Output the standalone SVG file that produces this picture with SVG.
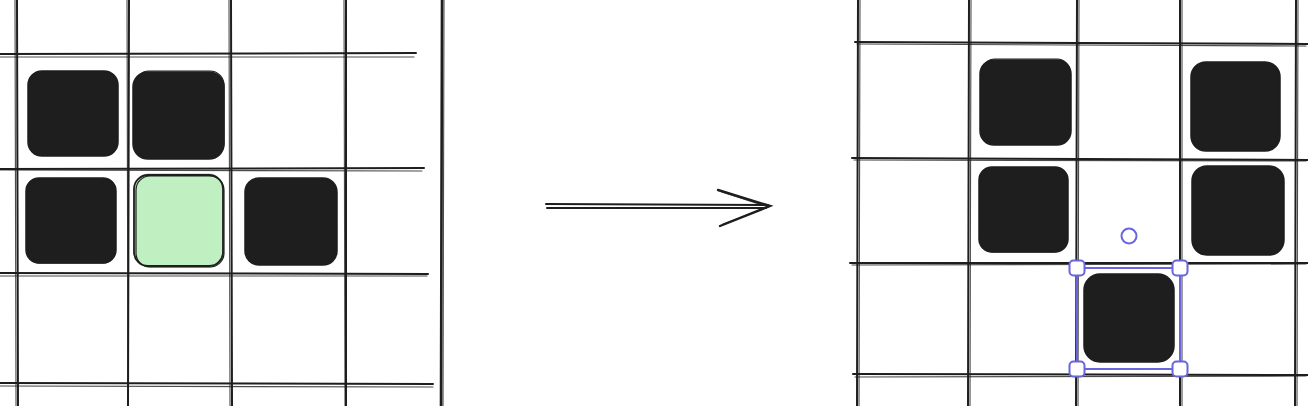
<svg xmlns="http://www.w3.org/2000/svg" width="1308" height="406" viewBox="0 0 1308 406">
<style>
.g{stroke:#1e1e1e;stroke-width:2;fill:none;stroke-linecap:round}
.g2{stroke:#1e1e1e;stroke-width:1.1;fill:none;stroke-linecap:round;opacity:.8}
.blk{fill:#1e1e1e;stroke:#1e1e1e;stroke-width:1.5}
.ol{fill:none;stroke:#1e1e1e;stroke-width:1.2}
.sel{fill:none;stroke:#6965db;stroke-width:2}
.hdl{fill:#fff;stroke:#6965db;stroke-width:2}
</style>
<rect width="1308" height="406" fill="#fff"/>
<g id="grid-left">
<path class="g" d="M17 0 L18 406 M129 0 L128 406 M231 0 L232 406 M346 0 L346 406"/>
<path class="g2" d="M15 0 L16 406 M127 0 L128 406 M229 0 L230 406 M344 0 L345 406"/>
<path class="g" d="M442 0 L441 406" style="stroke-width:2.6"/>
<path class="g2" d="M444 0 L443 406"/>
<path class="g" d="M0 54 L416 53 M0 169 L424 168 M0 273 L428 274 M0 383 L433 384"/>
<path class="g2" d="M0 57 L414 57 M0 170 L422 171 M0 276 L427 276 M0 386 L433 387"/>
</g>
<g id="grid-right">
<path class="g" d="M858 0 L857 406 M969 0 L968 406 M1077 0 L1076 406 M1180 0 L1180 406 M1296 0 L1295 406"/>
<path class="g2" d="M860 0 L859 406 M971 0 L970 406 M1079 0 L1078 406 M1182 0 L1182 406 M1298 0 L1297 406"/>
<path class="g" d="M855 42 L1308 44 M852 158 L1308 160 M850 263 L1308 263 M853 374 L1308 375"/>
<path class="g2" d="M857 44 L1306 46 M854 160 L1306 161 M852 265 L1306 264 M855 377 L1306 376"/>
</g>
<g id="node-l1"><rect class="blk" x="28" y="71" width="90" height="85" rx="14"/><rect class="ol" x="30" y="72" width="87" height="83" rx="13"/></g>
<g id="node-l2"><rect class="blk" x="133" y="72" width="91" height="87" rx="15"/><rect class="ol" x="135" y="71" width="89" height="86" rx="14"/></g>
<g id="node-l3"><rect class="blk" x="26" y="178" width="90" height="85" rx="13"/><rect class="ol" x="28" y="180" width="87" height="83" rx="12"/></g>
<g id="node-l4"><rect x="134" y="173" width="90" height="95" rx="16" fill="#c0f0c2"/><rect class="ol" x="134" y="175" width="89" height="91" rx="14" style="stroke-width:1.8"/><rect class="ol" x="136" y="176" width="88" height="91" rx="14"/></g>
<g id="node-l5"><rect class="blk" x="245" y="178" width="92" height="87" rx="14"/><rect class="ol" x="247" y="180" width="88" height="84" rx="13"/></g>
<g id="connectors">
<path class="g" d="M546 204 L768 205 M547 208 L766 208"/>
<path class="g" d="M718 190 L770 206 L720 226" style="stroke-width:2.4"/>
<path class="g2" d="M722 192 L768 207 L723 224"/>
</g>
<g id="node-r1"><rect class="blk" x="980" y="60" width="91" height="85" rx="14"/><rect class="ol" x="982" y="59" width="88" height="84" rx="13"/></g>
<g id="node-r2"><rect class="blk" x="1191" y="62" width="89" height="89" rx="15"/><rect class="ol" x="1192" y="64" width="87" height="85" rx="14"/></g>
<g id="node-r3"><rect class="blk" x="979" y="167" width="89" height="85" rx="13"/><rect class="ol" x="980" y="168" width="87" height="84" rx="13"/></g>
<g id="node-r4"><rect class="blk" x="1192" y="166" width="92" height="89" rx="15"/><rect class="ol" x="1193" y="168" width="90" height="86" rx="14"/></g>
<g id="node-r5"><rect class="blk" x="1084" y="274" width="90" height="88" rx="16"/><rect class="ol" x="1085" y="275" width="88" height="86" rx="15"/></g>
<g id="selection">
<rect class="sel" x="1077" y="268" width="103" height="101"/>
<rect class="hdl" x="1069.5" y="260.5" width="15" height="15" rx="4"/>
<rect class="hdl" x="1172.5" y="260.5" width="15" height="15" rx="4"/>
<rect class="hdl" x="1069.5" y="361.5" width="15" height="15" rx="4"/>
<rect class="hdl" x="1172.5" y="361.5" width="15" height="15" rx="4"/>
<circle class="hdl" cx="1129" cy="236" r="7.5"/>
</g>
</svg>
